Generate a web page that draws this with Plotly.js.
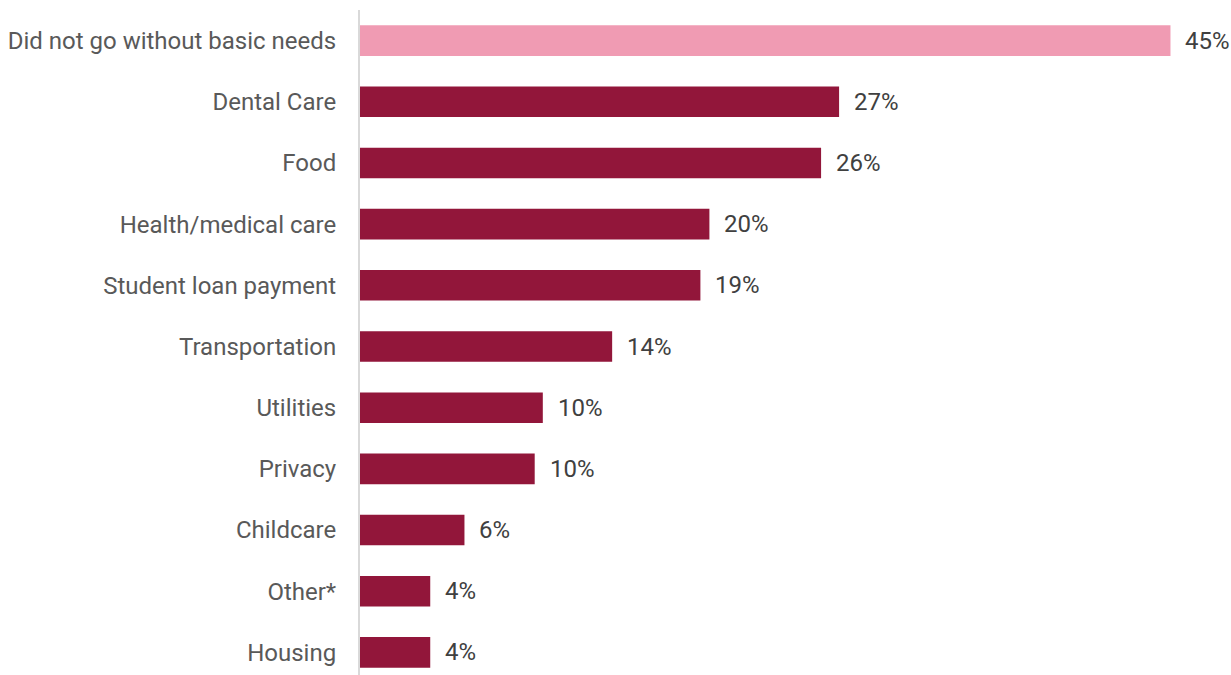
<!DOCTYPE html>
<html>
<head>
<meta charset="utf-8">
<script src="https://cdn.plot.ly/plotly-3.0.1.min.js"></script>
<style>
html, body { margin: 0; padding: 0; overflow: hidden; background: #fff; }
#chart { width: 1231px; height: 683px; }
</style>
</head>
<body>
<div id="chart"></div>
<script>
const categories = [
  "Did not go without basic needs",
  "Dental Care",
  "Food",
  "Health/medical care",
  "Student loan payment",
  "Transportation",
  "Utilities",
  "Privacy",
  "Childcare",
  "Other*",
  "Housing"
];
const values = [45, 26.6, 25.6, 19.4, 18.9, 14.0, 10.15, 9.7, 5.8, 3.9, 3.9];
const valueLabels = ["45%", "27%", "26%", "20%", "19%", "14%", "10%", "10%", "6%", "4%", "4%"];
const highlightColor = "#F09BB3";
const barColor = "#92163A";

const colors = categories.map((c, i) => i === 0 ? highlightColor : barColor);

const trace = {
  type: "bar",
  orientation: "h",
  x: values,
  y: categories,
  marker: { color: colors, line: { width: 0 } },
  hoverinfo: "none"
};

const annotations = categories.map((c, i) => ({
  x: values[i],
  y: c,
  xref: "x",
  yref: "y",
  text: valueLabels[i],
  showarrow: false,
  xanchor: "left",
  yanchor: "middle",
  xshift: 13,
  font: { family: "Roboto, sans-serif", size: 24, color: "#404040" }
}));

const layout = {
  width: 1231,
  height: 683,
  margin: { l: 360, r: 0, t: 10, b: 0 },
  paper_bgcolor: "#ffffff",
  plot_bgcolor: "#ffffff",
  bargap: 0.5,
  showlegend: false,
  xaxis: {
    range: [0, 48.36],
    showgrid: false,
    zeroline: false,
    showticklabels: false,
    showline: false,
    fixedrange: true
  },
  yaxis: {
    type: "category",
    categoryorder: "array",
    categoryarray: categories,
    autorange: "reversed",
    showgrid: false,
    zeroline: false,
    showline: true,
    linecolor: "#d9d9d9",
    linewidth: 2,
    ticks: "",
    ticklabelstandoff: 17,
    tickfont: { family: "Roboto, sans-serif", size: 24, color: "#595959" },
    fixedrange: true
  },
  annotations: annotations
};

Plotly.newPlot("chart", [trace], layout, { displayModeBar: false, staticPlot: true });
</script>
</body>
</html>
